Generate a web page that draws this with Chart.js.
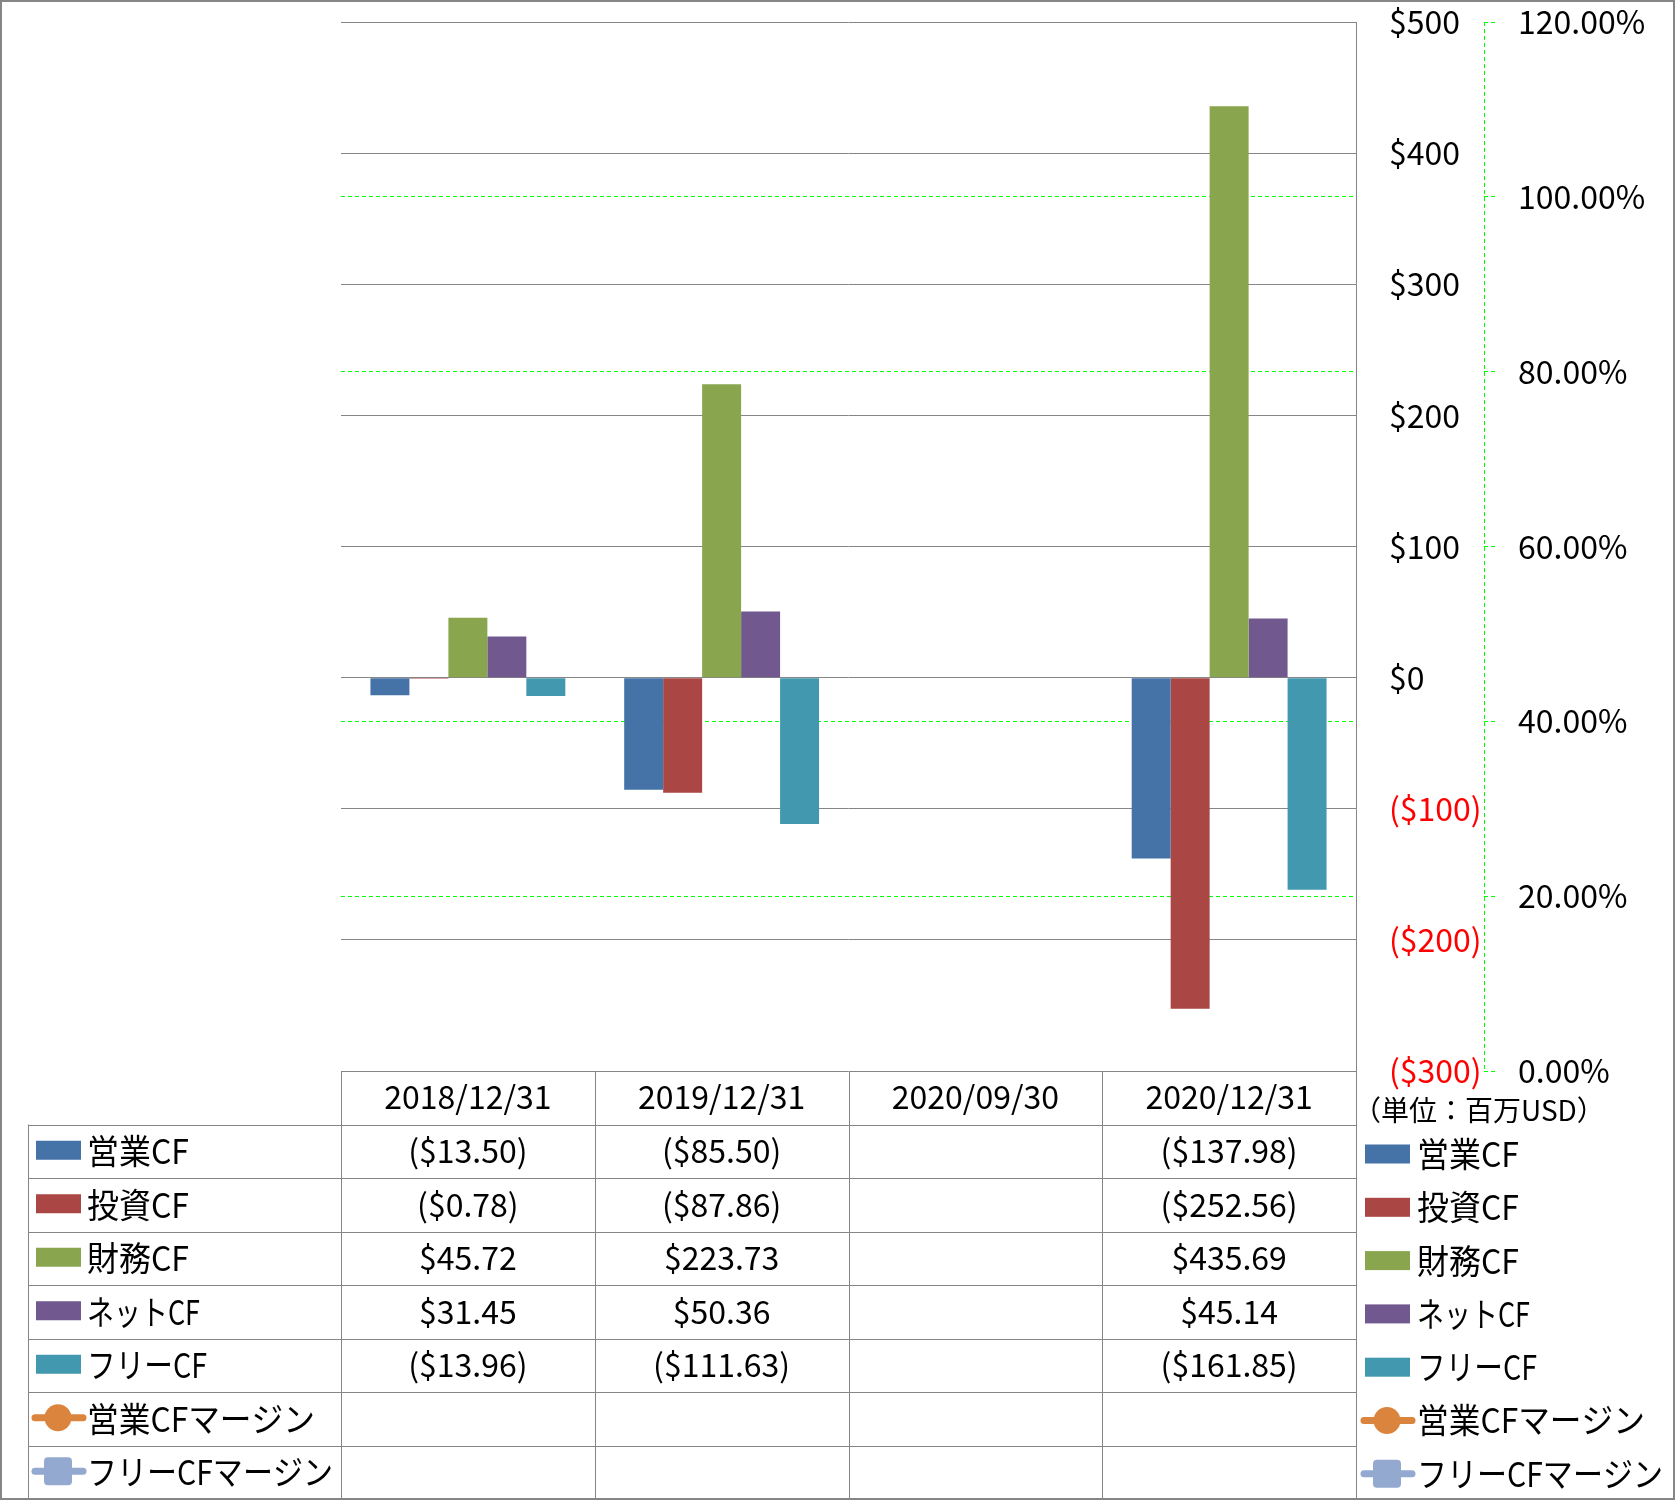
<!DOCTYPE html>
<html><head><meta charset="utf-8">
<script src="https://cdn.jsdelivr.net/npm/chart.js@4.4.1/dist/chart.umd.min.js"></script>
<style>html,body{margin:0;padding:0;background:#fff}canvas{display:block}</style>
</head><body>
<canvas id="c" width="1675" height="1500"></canvas>
<script>
// ---- data ----
const categories = ['2018/12/31', '2019/12/31', '2020/09/30', '2020/12/31'];
const operatingCF = [-13.50, -85.50, null, -137.98];
const investingCF = [-0.78, -87.86, null, -252.56];
const financingCF = [45.72, 223.73, null, 435.69];
const netCF = [31.45, 50.36, null, 45.14];
const freeCF = [-13.96, -111.63, null, -161.85];
const operatingCFMargin = [null, null, null, null];
const freeCFMargin = [null, null, null, null];
const seriesNames = ['営業CF', '投資CF', '財務CF', 'ネットCF', 'フリーCF', '営業CFマージン', 'フリーCFマージン'];
const unitLabel = '（単位：百万USD）';
const yMin = -300, yMax = 500, yStep = 100;
const y2Min = 0, y2Max = 1.2, y2Step = 0.2;

// ---- styles ----
const FONT = '"Noto Sans CJK JP", "Noto Sans", sans-serif';
const FS = 32;      // numbers / dates
const LFS = 34;     // legend text
const GRID = '#868686';
const GREEN = '#00FF00';
const colors = ['#4572A7', '#AA4643', '#89A54E', '#71588F', '#4198AF', '#DB843D', '#93A9CF'];
const legendMaxW = [102, 102, 102, 113, 120, 228, 246];

function fmtUSD(v) {
  if (v === null || v === undefined) return '';
  const s = '$' + Math.abs(v).toFixed(2);
  return v < 0 ? '(' + s + ')' : s;
}
function fmtTick(v) {
  const s = '$' + Math.abs(v);
  return v < 0 ? '(' + s + ')' : s;
}

Chart.defaults.font.family = FONT;
Chart.defaults.font.size = FS;
Chart.defaults.color = '#000';

function drawLegendIcon(ctx, i, x, cy, ds) {
  if (i < 5) {
    ctx.fillStyle = ds.backgroundColor;
    ctx.fillRect(x + 3, cy - 9.5, 45, 19);
  } else {
    const cx = x + 25;
    ctx.strokeStyle = ds.borderColor;
    ctx.lineWidth = 7;
    ctx.lineCap = 'round';
    ctx.beginPath(); ctx.moveTo(x + 2, cy); ctx.lineTo(x + 50, cy); ctx.stroke();
    ctx.fillStyle = ds.backgroundColor;
    if (i === 5) {
      ctx.beginPath(); ctx.arc(cx, cy, 13.5, 0, Math.PI * 2); ctx.fill();
    } else {
      const r = 4, s = 28, l = cx - s / 2, t = cy - s / 2;
      ctx.beginPath();
      ctx.moveTo(l + r, t); ctx.lineTo(l + s - r, t); ctx.quadraticCurveTo(l + s, t, l + s, t + r);
      ctx.lineTo(l + s, t + s - r); ctx.quadraticCurveTo(l + s, t + s, l + s - r, t + s);
      ctx.lineTo(l + r, t + s); ctx.quadraticCurveTo(l, t + s, l, t + s - r);
      ctx.lineTo(l, t + r); ctx.quadraticCurveTo(l, t, l + r, t);
      ctx.fill();
    }
  }
}

const tablePlugin = {
  id: 'tablePlugin',
  afterDraw(chart) {
    const ctx = chart.ctx;
    const area = chart.chartArea;
    const y2 = chart.scales.y2;
    const xs = chart.scales.x;
    ctx.save();
    // secondary axis dashed line
    ctx.strokeStyle = GREEN; ctx.lineWidth = 1; ctx.setLineDash([4, 3]);
    ctx.beginPath(); ctx.moveTo(Math.round(y2.left) + 0.5, y2.top); ctx.lineTo(Math.round(y2.left) + 0.5, y2.bottom); ctx.stroke();
    ctx.setLineDash([]);

    // data table
    const n = categories.length;
    const catW = (area.right - area.left) / n;
    const rowH = 53.5;
    const headTop = area.bottom;
    const rowTop = headTop + rowH;
    const tableLeft = 28;
    const nRows = seriesNames.length;
    const tableBottom = rowTop + nRows * rowH;
    ctx.strokeStyle = GRID; ctx.lineWidth = 1;
    ctx.beginPath();
    for (let r = 0; r <= nRows; r++) {
      const y = Math.round(rowTop + r * rowH) + 0.5;
      ctx.moveTo(tableLeft, y); ctx.lineTo(area.right, y);
    }
    ctx.moveTo(tableLeft + 0.5, rowTop); ctx.lineTo(tableLeft + 0.5, tableBottom);
    for (let k = 0; k <= n; k++) {
      const x = Math.round(area.left + k * catW) + 0.5;
      ctx.moveTo(x, headTop); ctx.lineTo(x, tableBottom);
    }
    ctx.stroke();

    ctx.textBaseline = 'middle';
    const dss = chart.data.datasets;
    for (let r = 0; r < nRows; r++) {
      const cy = rowTop + (r + 0.5) * rowH;
      const ds = dss[r];
      ctx.fillStyle = '#000';
      ctx.textAlign = 'center';
      ctx.font = FS + 'px ' + FONT;
      for (let k = 0; k < n; k++) {
        const txt = r < 5 ? fmtUSD(ds.data[k]) : (ds.data[k] == null ? '' : (ds.data[k] * 100).toFixed(2) + '%');
        if (txt) ctx.fillText(txt, xs.getPixelForValue(k), cy);
      }
      ctx.font = LFS + 'px ' + FONT;
      // left legend
      drawLegendIcon(ctx, r, 33, cy - 1, ds);
      ctx.fillStyle = '#000';
      ctx.textAlign = 'left';
      ctx.fillText(ds.label, 87, cy, legendMaxW[r]);
      // right legend
      const ry = 1154 + r * 53.3;
      drawLegendIcon(ctx, r, 1362, ry, ds);
      ctx.fillStyle = '#000';
      ctx.fillText(ds.label, 1417, ry, legendMaxW[r]);
    }
    // unit label
    ctx.font = '28px ' + FONT;
    ctx.fillText(unitLabel, 1353, 1110);
    // outer border
    ctx.strokeStyle = GRID; ctx.lineWidth = 2;
    ctx.strokeRect(1, 1, chart.width - 2, chart.height - 2);
    ctx.restore();
  }
};

const barData = [operatingCF, investingCF, financingCF, netCF, freeCF];
const datasets = barData.map((d, i) => ({
  type: 'bar', label: seriesNames[i], data: d, backgroundColor: colors[i], borderWidth: 0, yAxisID: 'y', order: 2
}));
[operatingCFMargin, freeCFMargin].forEach((d, j) => {
  const i = 5 + j;
  datasets.push({
    type: 'line', label: seriesNames[i], data: d, borderColor: colors[i], backgroundColor: colors[i],
    pointStyle: j === 0 ? 'circle' : 'rect', pointRadius: 13, borderWidth: 6, yAxisID: 'y2', order: 1
  });
});

const noPad = s => { s.paddingTop = 0; s.paddingBottom = 0; };
// secondary gridlines hidden where they coincide with the plot frame or a primary gridline
const hideY2Grid = v => v < 0.001 || v > 1.199 || Math.abs(v - 0.6) < 0.001;

new Chart(document.getElementById('c'), {
  type: 'bar',
  data: { labels: categories, datasets },
  options: {
    responsive: false,
    animation: false,
    devicePixelRatio: 1,
    layout: { padding: { top: 22, left: 341, right: 0, bottom: 0 } },
    plugins: { legend: { display: false }, tooltip: { enabled: false } },
    datasets: { bar: { categoryPercentage: 0.768, barPercentage: 1.0 } },
    scales: {
      x: {
        position: 'bottom',
        offset: true,
        grid: { display: false, drawTicks: false },
        border: { display: false },
        ticks: { font: { size: FS, family: FONT }, color: '#000', padding: 7, maxRotation: 0, autoSkip: false },
        afterFit: s => { s.height = 429; s.paddingLeft = 0; s.paddingRight = 0; }
      },
      y: {
        position: 'right',
        min: yMin, max: yMax,
        ticks: {
          stepSize: yStep, padding: 33, font: { size: FS, family: FONT },
          color: c => (c.tick && c.tick.value < 0) ? '#FF0000' : '#000000',
          callback: v => fmtTick(v)
        },
        grid: { color: GRID, lineWidth: 1, drawTicks: false },
        border: { display: true, color: GRID, width: 1 },
        afterFit: s => { s.width = 128; noPad(s); }
      },
      y2: {
        position: 'right',
        min: y2Min, max: y2Max,
        ticks: {
          stepSize: y2Step, padding: 22, font: { size: FS, family: FONT }, color: '#000',
          callback: v => (v * 100).toFixed(2) + '%'
        },
        grid: {
          color: c => (c.tick && hideY2Grid(c.tick.value)) ? 'rgba(0,0,0,0)' : GREEN,
          lineWidth: 1, drawTicks: true, tickLength: 12, tickColor: GREEN, tickBorderDash: [4, 3]
        },
        border: { display: false, dash: [4, 3] },
        afterFit: s => { s.width = 191; noPad(s); }
      }
    }
  },
  plugins: [tablePlugin]
});
</script>
</body></html>
